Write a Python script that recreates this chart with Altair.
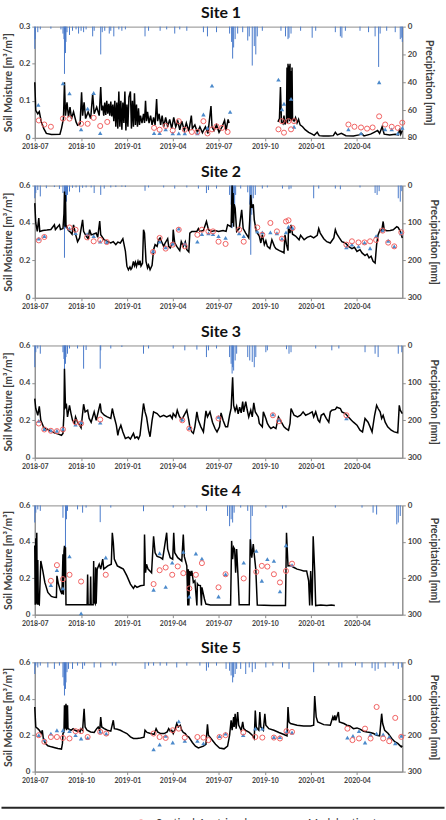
import altair as alt
import pandas as pd

# ---------------------------------------------------------------- site 1
S1_SOIL_A = [
    ("2018-07-01", 0.150), ("2018-07-03", 0.074), ("2018-07-07", 0.065), ("2018-07-10", 0.071),
    ("2018-07-14", 0.043), ("2018-07-19", 0.025), ("2018-07-24", 0.012), ("2018-08-03", 0.009),
    ("2018-08-20", 0.010), ("2018-08-23", 0.025), ("2018-08-27", 0.052), ("2018-08-29", 0.150),
    ("2018-08-31", 0.060), ("2018-09-03", 0.096), ("2018-09-06", 0.056), ("2018-09-09", 0.083),
    ("2018-09-12", 0.052), ("2018-09-16", 0.070), ("2018-09-21", 0.043), ("2018-09-24", 0.034),
    ("2018-09-29", 0.038), ("2018-10-02", 0.123), ("2018-10-04", 0.060), ("2018-10-07", 0.096),
    ("2018-10-10", 0.052), ("2018-10-15", 0.070), ("2018-10-20", 0.052), ("2018-10-24", 0.119),
    ("2018-10-27", 0.065), ("2018-11-01", 0.083), ("2018-11-06", 0.060), ("2018-11-09", 0.137),
    ("2018-11-11", 0.074), ("2018-11-13", 0.087), ("2018-11-15", 0.060), ("2018-11-17", 0.095),
    ("2018-11-19", 0.062), ("2018-11-21", 0.100), ("2018-11-23", 0.065), ("2018-11-25", 0.092),
    ("2018-11-27", 0.060), ("2018-11-29", 0.098), ("2018-12-01", 0.058), ("2018-12-03", 0.090),
    ("2018-12-05", 0.045), ("2018-12-07", 0.100), ("2018-12-09", 0.030), ("2018-12-11", 0.095),
    ("2018-12-13", 0.025), ("2018-12-15", 0.125), ("2018-12-17", 0.030), ("2018-12-19", 0.100),
    ("2018-12-21", 0.022), ("2018-12-23", 0.095), ("2018-12-25", 0.040), ("2018-12-27", 0.125),
    ("2018-12-29", 0.020), ("2018-12-31", 0.090), ("2019-01-02", 0.030), ("2019-01-04", 0.110),
    ("2019-01-07", 0.125), ("2019-01-09", 0.025), ("2019-01-11", 0.100), ("2019-01-13", 0.030),
    ("2019-01-15", 0.120), ("2019-01-17", 0.035), ("2019-01-19", 0.090), ("2019-01-21", 0.030),
    ("2019-01-23", 0.080), ("2019-01-25", 0.035), ("2019-01-27", 0.060), ("2019-01-30", 0.040),
    ("2019-02-02", 0.065), ("2019-02-04", 0.040), ("2019-02-06", 0.100), ("2019-02-08", 0.045),
    ("2019-02-10", 0.070), ("2019-02-13", 0.040), ("2019-02-16", 0.060), ("2019-02-19", 0.035),
    ("2019-02-22", 0.055), ("2019-02-25", 0.035), ("2019-02-28", 0.105), ("2019-03-02", 0.045),
    ("2019-03-05", 0.065), ("2019-03-08", 0.035), ("2019-03-11", 0.060), ("2019-03-14", 0.030),
    ("2019-03-18", 0.055), ("2019-03-22", 0.030), ("2019-03-26", 0.050), ("2019-03-30", 0.025),
    ("2019-04-03", 0.055), ("2019-04-07", 0.030), ("2019-04-11", 0.045), ("2019-04-15", 0.022),
    ("2019-04-19", 0.045), ("2019-04-24", 0.020), ("2019-04-28", 0.040), ("2019-05-03", 0.018),
    ("2019-05-08", 0.060), ("2019-05-10", 0.025), ("2019-05-15", 0.035), ("2019-05-20", 0.015),
    ("2019-05-25", 0.030), ("2019-05-30", 0.014), ("2019-06-05", 0.030), ("2019-06-10", 0.012),
    ("2019-06-16", 0.086), ("2019-06-18", 0.030), ("2019-06-22", 0.020), ("2019-06-27", 0.035),
    ("2019-07-02", 0.015), ("2019-07-08", 0.030), ("2019-07-13", 0.047), ("2019-07-16", 0.020),
    ("2019-07-20", 0.050), ("2019-07-22", 0.040),
]
S1_SOIL_B = [
    ("2019-10-27", 0.043), ("2019-10-30", 0.052), ("2019-11-01", 0.137), ("2019-11-03", 0.043),
    ("2019-11-06", 0.038), ("2019-11-08", 0.060), ("2019-11-10", 0.036), ("2019-11-13", 0.050),
    ("2019-11-14", 0.190), ("2019-11-15", 0.040), ("2019-11-16", 0.200), ("2019-11-17", 0.050),
    ("2019-11-18", 0.195), ("2019-11-19", 0.045), ("2019-11-20", 0.200), ("2019-11-21", 0.050),
    ("2019-11-22", 0.180), ("2019-11-23", 0.045), ("2019-11-24", 0.190), ("2019-11-25", 0.052),
    ("2019-11-28", 0.045), ("2019-12-01", 0.055), ("2019-12-04", 0.040), ("2019-12-07", 0.050),
    ("2019-12-10", 0.035), ("2019-12-15", 0.030), ("2019-12-20", 0.022), ("2019-12-27", 0.015),
    ("2020-01-03", 0.010), ("2020-01-07", 0.007), ("2020-01-13", 0.015), ("2020-01-17", 0.006),
    ("2020-01-25", 0.005), ("2020-02-05", 0.005), ("2020-02-14", 0.006), ("2020-02-18", 0.015),
    ("2020-02-22", 0.008), ("2020-03-01", 0.012), ("2020-03-10", 0.006), ("2020-03-25", 0.005),
    ("2020-04-05", 0.008), ("2020-04-10", 0.012), ("2020-04-15", 0.005), ("2020-04-28", 0.010),
    ("2020-05-05", 0.015), ("2020-05-12", 0.020), ("2020-05-16", 0.012), ("2020-05-21", 0.030),
    ("2020-05-25", 0.010), ("2020-06-05", 0.008), ("2020-06-16", 0.010), ("2020-06-22", 0.008),
    ("2020-06-25", 0.025), ("2020-06-27", 0.010), ("2020-06-30", 0.020),
]
S1_CIRCLES = [
    ("2018-07-09", 0.047), ("2018-07-20", 0.036), ("2018-08-02", 0.030), ("2018-08-26", 0.052),
    ("2018-09-08", 0.052), ("2018-10-01", 0.038), ("2018-10-14", 0.038), ("2018-10-26", 0.054),
    ("2018-11-08", 0.032), ("2018-11-22", 0.043), ("2019-02-23", 0.027), ("2019-03-06", 0.022),
    ("2019-03-18", 0.032), ("2019-04-01", 0.020), ("2019-04-13", 0.045), ("2019-04-25", 0.022),
    ("2019-05-09", 0.016), ("2019-05-20", 0.016), ("2019-06-01", 0.045), ("2019-06-09", 0.012),
    ("2019-06-18", 0.023), ("2019-06-27", 0.031), ("2019-07-08", 0.027), ("2019-07-19", 0.016),
    ("2019-10-28", 0.023), ("2019-11-04", 0.045), ("2019-11-08", 0.014), ("2019-11-17", 0.045),
    ("2019-11-22", 0.023), ("2019-11-28", 0.045), ("2020-03-15", 0.036), ("2020-03-27", 0.030),
    ("2020-04-09", 0.028), ("2020-04-21", 0.025), ("2020-05-02", 0.028), ("2020-05-15", 0.058),
    ("2020-05-27", 0.036), ("2020-06-09", 0.030), ("2020-06-21", 0.027), ("2020-06-30", 0.041),
]
S1_TRIANGLES = [
    ("2018-07-08", 0.089), ("2018-08-26", 0.147), ("2018-09-08", 0.120), ("2018-10-01", 0.023),
    ("2018-10-14", 0.079), ("2018-10-26", 0.121), ("2018-11-08", 0.013), ("2019-02-23", 0.013),
    ("2019-03-06", 0.013), ("2019-03-18", 0.023), ("2019-04-01", 0.012), ("2019-04-13", 0.012),
    ("2019-04-25", 0.012), ("2019-05-20", 0.012), ("2019-06-01", 0.063), ("2019-06-09", 0.027),
    ("2019-06-18", 0.141), ("2019-07-24", 0.070), ("2019-10-28", 0.157), ("2019-11-04", 0.077),
    ("2019-11-08", 0.092), ("2019-11-22", 0.105), ("2019-11-28", 0.030), ("2020-03-15", 0.023),
    ("2020-04-09", 0.012), ("2020-05-15", 0.150), ("2020-05-27", 0.023), ("2020-06-09", 0.023),
    ("2020-06-21", 0.012), ("2020-06-30", 0.027),
]
S1_RAIN = [
    ("2018-07-01", 16), ("2018-07-02", 9), ("2018-07-07", 4), ("2018-07-12", 2), ("2018-08-02", 1.5),
    ("2018-08-22", 2), ("2018-08-26", 5), ("2018-08-28", 9), ("2018-08-29", 34), ("2018-08-31", 19),
    ("2018-09-01", 11), ("2018-09-03", 4), ("2018-09-08", 6), ("2018-09-14", 3), ("2018-09-21", 2),
    ("2018-09-26", 5), ("2018-10-01", 3), ("2018-10-06", 4), ("2018-10-11", 2), ("2018-10-24", 7),
    ("2018-10-27", 3), ("2018-11-09", 20), ("2018-11-12", 4), ("2018-11-17", 3), ("2018-11-26", 5),
    ("2018-11-29", 3), ("2018-12-05", 7), ("2018-12-15", 2), ("2018-12-21", 3), ("2018-12-28", 2),
    ("2019-02-05", 7), ("2019-02-12", 3), ("2019-03-07", 3), ("2019-03-20", 2), ("2019-04-05", 5),
    ("2019-04-15", 2), ("2019-04-29", 3), ("2019-06-01", 4), ("2019-06-09", 7), ("2019-06-27", 4),
    ("2019-07-23", 5), ("2019-07-27", 11), ("2019-07-29", 23), ("2019-07-31", 15), ("2019-08-03", 9),
    ("2019-08-08", 5), ("2019-08-18", 4), ("2019-08-28", 10), ("2019-08-31", 7), ("2019-09-06", 28),
    ("2019-09-10", 14), ("2019-09-13", 20), ("2019-09-16", 7), ("2019-09-26", 3), ("2019-11-02", 3),
    ("2019-11-11", 7), ("2019-11-16", 9), ("2019-11-18", 8), ("2019-11-22", 5), ("2019-12-11", 3),
    ("2020-01-03", 8), ("2020-01-10", 3), ("2020-02-18", 4), ("2020-02-28", 7), ("2020-03-02", 8),
    ("2020-03-09", 3), ("2020-04-07", 3), ("2020-04-24", 4), ("2020-05-07", 7), ("2020-05-14", 29),
    ("2020-05-17", 5), ("2020-05-30", 3), ("2020-06-16", 4), ("2020-06-26", 9), ("2020-06-29", 8),
    ("2020-06-30", 11),
]

# ---------------------------------------------------------------- site 2
S2_SOIL = [
    ("2018-07-01", 0.506), ("2018-07-03", 0.400), ("2018-07-06", 0.355), ("2018-07-09", 0.426),
    ("2018-07-11", 0.355), ("2018-07-17", 0.360), ("2018-07-25", 0.362), ("2018-08-02", 0.365),
    ("2018-08-09", 0.390), ("2018-08-11", 0.365), ("2018-08-19", 0.390), ("2018-08-21", 0.365),
    ("2018-08-26", 0.370), ("2018-08-28", 0.450), ("2018-08-29", 0.568), ("2018-08-30", 0.380),
    ("2018-08-31", 0.550), ("2018-09-01", 0.390), ("2018-09-02", 0.380), ("2018-09-06", 0.360),
    ("2018-09-10", 0.350), ("2018-09-13", 0.340), ("2018-09-16", 0.390), ("2018-09-20", 0.340),
    ("2018-09-24", 0.300), ("2018-09-28", 0.320), ("2018-10-04", 0.417), ("2018-10-06", 0.355),
    ("2018-10-11", 0.330), ("2018-10-15", 0.316), ("2018-10-18", 0.364), ("2018-10-21", 0.337),
    ("2018-10-25", 0.340), ("2018-10-31", 0.346), ("2018-11-03", 0.323), ("2018-11-07", 0.410),
    ("2018-11-09", 0.337), ("2018-11-16", 0.310), ("2018-11-23", 0.300), ("2018-11-29", 0.293),
    ("2018-12-04", 0.300), ("2018-12-09", 0.284), ("2018-12-13", 0.298), ("2018-12-18", 0.293),
    ("2018-12-23", 0.316), ("2018-12-28", 0.250), ("2018-12-31", 0.169), ("2019-01-03", 0.150),
    ("2019-01-06", 0.165), ("2019-01-08", 0.152), ("2019-01-10", 0.160), ("2019-01-13", 0.195),
    ("2019-01-15", 0.172), ("2019-01-17", 0.190), ("2019-01-19", 0.168), ("2019-01-22", 0.195),
    ("2019-01-24", 0.175), ("2019-01-26", 0.198), ("2019-01-28", 0.170), ("2019-01-31", 0.185),
    ("2019-02-02", 0.364), ("2019-02-04", 0.346), ("2019-02-07", 0.195), ("2019-02-10", 0.160),
    ("2019-02-12", 0.175), ("2019-02-15", 0.150), ("2019-02-19", 0.174), ("2019-02-22", 0.257),
    ("2019-02-25", 0.284), ("2019-03-01", 0.275), ("2019-03-04", 0.310), ("2019-03-07", 0.320),
    ("2019-03-10", 0.300), ("2019-03-14", 0.275), ("2019-03-17", 0.293), ("2019-03-22", 0.316),
    ("2019-03-24", 0.275), ("2019-03-27", 0.266), ("2019-04-01", 0.293), ("2019-04-02", 0.364),
    ("2019-04-05", 0.293), ("2019-04-09", 0.275), ("2019-04-15", 0.252), ("2019-04-18", 0.300),
    ("2019-04-22", 0.275), ("2019-04-26", 0.300), ("2019-04-29", 0.257), ("2019-05-03", 0.245),
    ("2019-05-05", 0.346), ("2019-05-09", 0.355), ("2019-05-19", 0.355), ("2019-05-22", 0.370),
    ("2019-05-25", 0.355), ("2019-06-01", 0.360), ("2019-06-07", 0.408), ("2019-06-11", 0.364),
    ("2019-06-17", 0.355), ("2019-06-24", 0.360), ("2019-07-01", 0.355), ("2019-07-10", 0.360),
    ("2019-07-16", 0.355), ("2019-07-19", 0.390), ("2019-07-26", 0.380), ("2019-07-28", 0.600),
    ("2019-07-29", 0.400), ("2019-07-30", 0.560), ("2019-07-31", 0.380), ("2019-08-01", 0.500),
    ("2019-08-03", 0.480), ("2019-08-06", 0.355), ("2019-08-11", 0.370), ("2019-08-16", 0.470),
    ("2019-08-19", 0.370), ("2019-08-24", 0.346), ("2019-08-30", 0.320), ("2019-09-01", 0.417),
    ("2019-09-03", 0.550), ("2019-09-05", 0.480), ("2019-09-08", 0.500), ("2019-09-10", 0.417),
    ("2019-09-14", 0.355), ("2019-09-20", 0.330), ("2019-09-23", 0.293), ("2019-09-26", 0.337),
    ("2019-09-30", 0.284), ("2019-10-03", 0.305), ("2019-10-06", 0.275), ("2019-10-11", 0.263),
    ("2019-10-15", 0.310), ("2019-10-20", 0.275), ("2019-10-23", 0.263), ("2019-10-30", 0.252),
    ("2019-11-05", 0.245), ("2019-11-08", 0.240), ("2019-11-10", 0.337), ("2019-11-13", 0.284),
    ("2019-11-16", 0.252), ("2019-11-17", 0.380), ("2019-11-20", 0.346), ("2019-11-22", 0.390),
    ("2019-11-25", 0.340), ("2019-12-01", 0.330), ("2019-12-08", 0.310), ("2019-12-11", 0.334),
    ("2019-12-18", 0.310), ("2019-12-24", 0.323), ("2019-12-31", 0.330), ("2020-01-06", 0.320),
    ("2020-01-13", 0.334), ("2020-01-16", 0.370), ("2020-01-19", 0.346), ("2020-01-26", 0.316),
    ("2020-02-01", 0.300), ("2020-02-08", 0.293), ("2020-02-15", 0.320), ("2020-02-18", 0.364),
    ("2020-02-21", 0.341), ("2020-02-26", 0.320), ("2020-03-02", 0.300), ("2020-03-09", 0.293),
    ("2020-03-15", 0.275), ("2020-03-22", 0.263), ("2020-03-27", 0.270), ("2020-04-01", 0.248),
    ("2020-04-07", 0.257), ("2020-04-11", 0.240), ("2020-04-17", 0.226), ("2020-04-21", 0.234),
    ("2020-04-25", 0.213), ("2020-04-29", 0.222), ("2020-05-03", 0.195), ("2020-05-07", 0.186),
    ("2020-05-10", 0.284), ("2020-05-13", 0.337), ("2020-05-17", 0.364), ("2020-05-20", 0.355),
    ("2020-05-23", 0.408), ("2020-05-25", 0.364), ("2020-05-30", 0.359), ("2020-06-06", 0.360),
    ("2020-06-12", 0.364), ("2020-06-19", 0.380), ("2020-06-22", 0.375), ("2020-06-26", 0.355),
    ("2020-06-30", 0.320),
]
S2_CIRCLES = [
    ("2018-07-09", 0.307), ("2018-07-20", 0.325), ("2018-09-08", 0.376), ("2018-09-20", 0.364),
    ("2018-10-13", 0.323), ("2018-10-26", 0.302), ("2018-11-08", 0.309), ("2018-11-21", 0.298),
    ("2019-02-21", 0.245), ("2019-03-06", 0.320), ("2019-03-18", 0.263), ("2019-04-01", 0.284),
    ("2019-04-13", 0.364), ("2019-04-25", 0.275), ("2019-05-20", 0.337), ("2019-05-29", 0.364),
    ("2019-06-11", 0.355), ("2019-06-20", 0.355), ("2019-07-01", 0.300), ("2019-07-15", 0.288),
    ("2019-08-11", 0.364), ("2019-08-20", 0.300), ("2019-09-16", 0.376), ("2019-09-26", 0.337),
    ("2019-10-12", 0.400), ("2019-10-25", 0.355), ("2019-11-04", 0.316), ("2019-11-12", 0.408),
    ("2019-11-17", 0.414), ("2019-11-25", 0.373), ("2020-03-11", 0.284), ("2020-03-22", 0.302),
    ("2020-04-04", 0.296), ("2020-04-16", 0.296), ("2020-04-27", 0.302), ("2020-05-09", 0.309),
    ("2020-05-22", 0.359), ("2020-06-02", 0.295), ("2020-06-14", 0.275), ("2020-06-28", 0.350),
]
S2_TRIANGLES = [
    ("2018-07-09", 0.316), ("2018-07-20", 0.330), ("2018-09-08", 0.370), ("2018-09-20", 0.346),
    ("2018-10-13", 0.340), ("2018-10-26", 0.330), ("2018-11-08", 0.300), ("2018-11-21", 0.298),
    ("2019-02-21", 0.250), ("2019-03-06", 0.300), ("2019-03-18", 0.270), ("2019-04-01", 0.290),
    ("2019-04-13", 0.370), ("2019-04-25", 0.290), ("2019-05-20", 0.300), ("2019-05-29", 0.340),
    ("2019-06-11", 0.345), ("2019-06-20", 0.340), ("2019-07-01", 0.330), ("2019-07-15", 0.320),
    ("2019-08-11", 0.345), ("2019-08-20", 0.330), ("2019-09-16", 0.355), ("2019-09-26", 0.350),
    ("2019-10-12", 0.350), ("2019-10-25", 0.345), ("2019-11-04", 0.316), ("2019-11-12", 0.350),
    ("2019-11-17", 0.380), ("2019-11-25", 0.373), ("2020-03-11", 0.270), ("2020-03-22", 0.285),
    ("2020-04-04", 0.275), ("2020-04-16", 0.295), ("2020-04-27", 0.265), ("2020-05-09", 0.330),
    ("2020-05-22", 0.360), ("2020-06-02", 0.305), ("2020-06-14", 0.275), ("2020-06-28", 0.345),
]
S2_RAIN = [
    ("2018-07-01", 34), ("2018-07-03", 20), ("2018-07-07", 12), ("2018-07-12", 29), ("2018-07-24", 7),
    ("2018-08-09", 4), ("2018-08-19", 9), ("2018-08-26", 20), ("2018-08-29", 193), ("2018-08-31", 114),
    ("2018-09-02", 43), ("2018-09-04", 25), ("2018-09-08", 16), ("2018-09-14", 6), ("2018-09-21", 5),
    ("2018-09-28", 18), ("2018-10-04", 6), ("2018-10-11", 5), ("2018-10-21", 5), ("2018-10-27", 20),
    ("2018-11-09", 25), ("2018-11-16", 8), ("2018-11-29", 5), ("2018-12-09", 4), ("2018-12-21", 3),
    ("2018-12-28", 4), ("2019-02-05", 14), ("2019-02-12", 5), ("2019-03-14", 5), ("2019-04-05", 8),
    ("2019-04-29", 5), ("2019-05-22", 8), ("2019-06-07", 20), ("2019-06-11", 12), ("2019-06-27", 8),
    ("2019-07-23", 25), ("2019-07-26", 51), ("2019-07-28", 114), ("2019-07-29", 69), ("2019-07-31", 96),
    ("2019-08-02", 60), ("2019-08-04", 25), ("2019-08-14", 8), ("2019-08-28", 18), ("2019-09-01", 51),
    ("2019-09-03", 185), ("2019-09-05", 78), ("2019-09-08", 34), ("2019-09-12", 25), ("2019-09-26", 8),
    ("2019-10-06", 5), ("2019-11-05", 8), ("2019-11-18", 10), ("2019-11-22", 8), ("2020-01-06", 34),
    ("2020-01-16", 8), ("2020-02-18", 8), ("2020-02-28", 10), ("2020-04-07", 5), ("2020-05-07", 20),
    ("2020-05-11", 25), ("2020-05-15", 15), ("2020-06-22", 34), ("2020-06-26", 43), ("2020-06-29", 15),
]

# ---------------------------------------------------------------- site 3
S3_SOIL = [
    ("2018-07-01", 0.316), ("2018-07-03", 0.263), ("2018-07-07", 0.227), ("2018-07-10", 0.275),
    ("2018-07-13", 0.200), ("2018-07-19", 0.160), ("2018-07-27", 0.151), ("2018-08-02", 0.142),
    ("2018-08-09", 0.133), ("2018-08-17", 0.126), ("2018-08-23", 0.120), ("2018-08-26", 0.130),
    ("2018-08-28", 0.236), ("2018-08-29", 0.476), ("2018-08-31", 0.270), ("2018-09-02", 0.280),
    ("2018-09-04", 0.218), ("2018-09-08", 0.280), ("2018-09-11", 0.236), ("2018-09-14", 0.200),
    ("2018-09-18", 0.183), ("2018-09-20", 0.218), ("2018-09-24", 0.190), ("2018-09-28", 0.174),
    ("2018-10-01", 0.160), ("2018-10-06", 0.286), ("2018-10-09", 0.245), ("2018-10-14", 0.254),
    ("2018-10-17", 0.210), ("2018-10-21", 0.190), ("2018-10-27", 0.245), ("2018-10-31", 0.200),
    ("2018-11-08", 0.290), ("2018-11-10", 0.245), ("2018-11-16", 0.227), ("2018-11-22", 0.218),
    ("2018-11-29", 0.210), ("2018-12-02", 0.263), ("2018-12-05", 0.227), ("2018-12-10", 0.174),
    ("2018-12-13", 0.120), ("2018-12-15", 0.147), ("2018-12-19", 0.174), ("2018-12-23", 0.138),
    ("2018-12-28", 0.103), ("2019-01-03", 0.110), ("2019-01-07", 0.100), ("2019-01-10", 0.115),
    ("2019-01-13", 0.130), ("2019-01-16", 0.105), ("2019-01-20", 0.112), ("2019-01-23", 0.100),
    ("2019-01-26", 0.120), ("2019-02-02", 0.290), ("2019-02-05", 0.245), ("2019-02-08", 0.218),
    ("2019-02-12", 0.147), ("2019-02-15", 0.112), ("2019-02-19", 0.200), ("2019-02-22", 0.245),
    ("2019-03-01", 0.236), ("2019-03-07", 0.218), ("2019-03-14", 0.227), ("2019-03-20", 0.218),
    ("2019-03-27", 0.227), ("2019-03-31", 0.210), ("2019-04-02", 0.236), ("2019-04-07", 0.218),
    ("2019-04-10", 0.254), ("2019-04-14", 0.222), ("2019-04-19", 0.200), ("2019-04-22", 0.218),
    ("2019-04-29", 0.254), ("2019-05-03", 0.200), ("2019-05-05", 0.165), ("2019-05-09", 0.138),
    ("2019-05-12", 0.130), ("2019-05-15", 0.165), ("2019-05-19", 0.245), ("2019-05-22", 0.200),
    ("2019-05-27", 0.165), ("2019-06-01", 0.138), ("2019-06-06", 0.250), ("2019-06-09", 0.218),
    ("2019-06-14", 0.245), ("2019-06-19", 0.190), ("2019-06-24", 0.156), ("2019-06-28", 0.138),
    ("2019-07-03", 0.165), ("2019-07-06", 0.240), ("2019-07-10", 0.200), ("2019-07-15", 0.165),
    ("2019-07-19", 0.165), ("2019-07-23", 0.227), ("2019-07-26", 0.263), ("2019-07-29", 0.430),
    ("2019-07-31", 0.280), ("2019-08-03", 0.250), ("2019-08-06", 0.275), ("2019-08-09", 0.235),
    ("2019-08-12", 0.270), ("2019-08-15", 0.240), ("2019-08-18", 0.300), ("2019-08-20", 0.245),
    ("2019-08-24", 0.300), ("2019-08-27", 0.255), ("2019-08-30", 0.218), ("2019-09-03", 0.254),
    ("2019-09-06", 0.218), ("2019-09-09", 0.293), ("2019-09-12", 0.245), ("2019-09-18", 0.218),
    ("2019-09-20", 0.183), ("2019-09-26", 0.165), ("2019-09-28", 0.245), ("2019-10-03", 0.210),
    ("2019-10-06", 0.183), ("2019-10-10", 0.165), ("2019-10-13", 0.156), ("2019-10-18", 0.165),
    ("2019-10-23", 0.156), ("2019-10-28", 0.218), ("2019-11-01", 0.200), ("2019-11-08", 0.165),
    ("2019-11-12", 0.156), ("2019-11-17", 0.147), ("2019-11-20", 0.183), ("2019-11-22", 0.263),
    ("2019-11-28", 0.227), ("2019-12-05", 0.218), ("2019-12-11", 0.227), ("2019-12-16", 0.245),
    ("2019-12-21", 0.227), ("2019-12-28", 0.236), ("2020-01-03", 0.245), ("2020-01-06", 0.218),
    ("2020-01-10", 0.245), ("2020-01-15", 0.200), ("2020-01-18", 0.190), ("2020-01-21", 0.227),
    ("2020-01-26", 0.236), ("2020-01-31", 0.210), ("2020-02-05", 0.190), ("2020-02-08", 0.245),
    ("2020-02-11", 0.254), ("2020-02-18", 0.258), ("2020-02-21", 0.270), ("2020-02-28", 0.263),
    ("2020-03-02", 0.245), ("2020-03-09", 0.236), ("2020-03-15", 0.218), ("2020-03-21", 0.200),
    ("2020-03-25", 0.190), ("2020-04-01", 0.174), ("2020-04-07", 0.147), ("2020-04-12", 0.138),
    ("2020-04-17", 0.210), ("2020-04-23", 0.190), ("2020-04-27", 0.165), ("2020-05-01", 0.138),
    ("2020-05-06", 0.227), ("2020-05-10", 0.280), ("2020-05-13", 0.263), ("2020-05-17", 0.245),
    ("2020-05-20", 0.210), ("2020-05-23", 0.227), ("2020-05-27", 0.190), ("2020-06-01", 0.165),
    ("2020-06-08", 0.147), ("2020-06-14", 0.138), ("2020-06-21", 0.133), ("2020-06-24", 0.280),
    ("2020-06-26", 0.254), ("2020-06-30", 0.236),
]
S3_CIRCLES = [
    ("2018-07-09", 0.183), ("2018-07-20", 0.151), ("2018-08-02", 0.144), ("2018-08-14", 0.142),
    ("2018-08-26", 0.151), ("2018-09-20", 0.190), ("2018-10-01", 0.183), ("2018-11-08", 0.204),
    ("2019-04-20", 0.200), ("2019-05-04", 0.156), ("2019-07-01", 0.210), ("2019-10-17", 0.227),
    ("2019-10-29", 0.195), ("2020-03-11", 0.227),
]
S3_TRIANGLES = [
    ("2018-07-09", 0.197), ("2018-07-20", 0.153), ("2018-08-02", 0.146), ("2018-08-14", 0.144),
    ("2018-08-26", 0.154), ("2018-09-20", 0.177), ("2018-10-01", 0.190), ("2018-11-08", 0.188),
    ("2019-04-20", 0.204), ("2019-05-04", 0.158), ("2019-07-01", 0.218), ("2019-10-17", 0.232),
    ("2019-10-29", 0.204), ("2020-03-11", 0.210),
]
S3_RAIN = [
    ("2018-07-01", 58), ("2018-07-03", 18), ("2018-07-07", 8), ("2018-07-12", 22), ("2018-08-26", 18),
    ("2018-08-28", 36), ("2018-08-29", 84), ("2018-08-31", 49), ("2018-09-01", 31), ("2018-09-04", 22),
    ("2018-09-08", 8), ("2018-09-24", 8), ("2018-10-06", 62), ("2018-10-11", 12), ("2018-11-08", 62),
    ("2018-11-09", 13), ("2018-11-29", 8), ("2018-12-21", 4), ("2019-02-02", 22), ("2019-02-12", 8),
    ("2019-04-02", 8), ("2019-04-25", 13), ("2019-05-19", 11), ("2019-06-07", 31), ("2019-06-11", 13),
    ("2019-06-27", 8), ("2019-07-23", 31), ("2019-07-26", 49), ("2019-07-28", 75), ("2019-07-29", 58),
    ("2019-07-31", 67), ("2019-08-03", 40), ("2019-08-06", 22), ("2019-08-28", 31), ("2019-09-01", 40),
    ("2019-09-06", 44), ("2019-09-10", 58), ("2019-09-13", 31), ("2019-10-03", 18), ("2019-10-06", 13),
    ("2019-11-13", 10), ("2019-11-18", 22), ("2019-11-22", 18), ("2020-01-10", 8), ("2020-02-11", 13),
    ("2020-02-25", 8), ("2020-04-17", 18), ("2020-05-07", 22), ("2020-05-13", 31), ("2020-06-22", 22),
    ("2020-06-29", 18),
]

# ---------------------------------------------------------------- site 4
S4_SOIL = [
    ("2018-07-01", 0.380), ("2018-07-02", 0.055), ("2018-07-03", 0.420), ("2018-07-04", 0.060),
    ("2018-07-05", 0.450), ("2018-07-06", 0.055), ("2018-07-07", 0.300), ("2018-07-08", 0.060),
    ("2018-07-10", 0.055), ("2018-07-13", 0.295), ("2018-07-17", 0.240), ("2018-07-21", 0.177),
    ("2018-07-27", 0.122), ("2018-08-03", 0.100), ("2018-08-09", 0.095), ("2018-08-13", 0.094),
    ("2018-08-14", 0.213), ("2018-08-17", 0.168), ("2018-08-21", 0.131), ("2018-08-24", 0.113),
    ("2018-08-26", 0.332), ("2018-08-27", 0.110), ("2018-08-28", 0.350), ("2018-08-29", 0.378),
    ("2018-08-30", 0.200), ("2018-08-31", 0.370), ("2018-09-01", 0.055), ("2018-10-13", 0.055),
    ("2018-10-14", 0.220), ("2018-10-15", 0.055), ("2018-10-19", 0.055), ("2018-10-20", 0.210),
    ("2018-10-21", 0.055), ("2018-10-25", 0.055), ("2018-10-26", 0.295), ("2018-10-27", 0.070),
    ("2018-10-29", 0.060), ("2018-10-30", 0.260), ("2018-10-31", 0.060), ("2018-11-02", 0.250),
    ("2018-11-06", 0.277), ("2018-11-09", 0.250), ("2018-11-13", 0.305), ("2018-11-15", 0.250),
    ("2018-11-23", 0.268), ("2018-11-30", 0.277), ("2018-12-02", 0.450), ("2018-12-04", 0.396),
    ("2018-12-06", 0.305), ("2018-12-12", 0.268), ("2018-12-18", 0.259), ("2018-12-24", 0.250),
    ("2018-12-31", 0.213), ("2019-01-07", 0.168), ("2019-01-13", 0.144), ("2019-01-16", 0.159),
    ("2019-01-20", 0.150), ("2019-01-27", 0.159), ("2019-02-03", 0.162), ("2019-02-04", 0.440),
    ("2019-02-06", 0.230), ("2019-02-08", 0.277), ("2019-02-11", 0.250), ("2019-02-18", 0.230),
    ("2019-02-22", 0.430), ("2019-02-25", 0.340), ("2019-03-01", 0.320), ("2019-03-08", 0.313),
    ("2019-03-12", 0.305), ("2019-03-20", 0.450), ("2019-03-22", 0.360), ("2019-03-27", 0.313),
    ("2019-04-01", 0.305), ("2019-04-03", 0.450), ("2019-04-05", 0.340), ("2019-04-11", 0.313),
    ("2019-04-19", 0.295), ("2019-04-22", 0.440), ("2019-04-24", 0.320), ("2019-04-29", 0.268),
    ("2019-05-01", 0.050), ("2019-05-02", 0.250), ("2019-05-03", 0.050), ("2019-05-05", 0.240),
    ("2019-05-07", 0.213), ("2019-05-09", 0.240), ("2019-05-12", 0.177), ("2019-05-15", 0.186),
    ("2019-05-19", 0.050), ("2019-05-20", 0.170), ("2019-05-22", 0.162), ("2019-05-26", 0.160),
    ("2019-05-28", 0.050), ("2019-05-29", 0.150), ("2019-06-03", 0.086), ("2019-06-06", 0.058),
    ("2019-06-15", 0.053), ("2019-07-25", 0.053), ("2019-07-27", 0.405), ("2019-07-29", 0.305),
    ("2019-07-31", 0.370), ("2019-08-02", 0.360), ("2019-08-04", 0.230), ("2019-08-06", 0.360),
    ("2019-08-09", 0.195), ("2019-08-11", 0.055), ("2019-08-31", 0.055), ("2019-09-02", 0.414),
    ("2019-09-05", 0.313), ("2019-09-08", 0.387), ("2019-09-10", 0.330), ("2019-09-13", 0.250),
    ("2019-09-16", 0.053), ("2019-10-15", 0.050), ("2019-11-11", 0.050), ("2019-11-13", 0.450),
    ("2019-11-16", 0.268), ("2019-11-21", 0.270), ("2019-11-28", 0.259), ("2019-12-04", 0.250),
    ("2019-12-10", 0.246), ("2019-12-17", 0.240), ("2019-12-23", 0.240), ("2019-12-27", 0.186),
    ("2019-12-29", 0.050), ("2019-12-31", 0.240), ("2020-01-03", 0.050), ("2020-01-05", 0.430),
    ("2020-01-08", 0.240), ("2020-01-10", 0.050), ("2020-01-20", 0.053), ("2020-02-01", 0.050),
    ("2020-02-10", 0.053), ("2020-02-17", 0.050),
]
S4_CIRCLES = [
    ("2018-08-02", 0.186), ("2018-08-14", 0.272), ("2018-08-26", 0.195), ("2018-09-08", 0.219),
    ("2018-10-01", 0.182), ("2018-11-19", 0.219), ("2019-02-22", 0.168), ("2019-03-06", 0.244),
    ("2019-03-18", 0.259), ("2019-03-31", 0.219), ("2019-04-11", 0.265), ("2019-04-22", 0.228),
    ("2019-05-04", 0.144), ("2019-05-17", 0.219), ("2019-05-29", 0.283), ("2019-07-01", 0.150),
    ("2019-07-15", 0.222), ("2019-08-20", 0.199), ("2019-09-14", 0.235), ("2019-09-25", 0.268),
    ("2019-10-06", 0.264), ("2019-10-19", 0.222), ("2019-10-31", 0.177), ("2019-11-12", 0.240),
    ("2019-11-24", 0.280),
]
S4_TRIANGLES = [
    ("2018-08-02", 0.162), ("2018-08-14", 0.245), ("2018-08-26", 0.144), ("2018-09-08", 0.320),
    ("2018-10-01", 0.007), ("2018-11-19", 0.314), ("2019-02-22", 0.137), ("2019-03-06", 0.337),
    ("2019-03-18", 0.153), ("2019-03-31", 0.286), ("2019-04-22", 0.345), ("2019-05-04", 0.100),
    ("2019-05-17", 0.336), ("2019-05-29", 0.308), ("2019-07-01", 0.100), ("2019-07-15", 0.222),
    ("2019-08-20", 0.286), ("2019-09-14", 0.350), ("2019-09-25", 0.186), ("2019-10-06", 0.305),
    ("2019-10-19", 0.295), ("2019-10-31", 0.128), ("2019-11-12", 0.381), ("2019-11-24", 0.272),
]
S4_RAIN = [
    ("2018-07-01", 47), ("2018-07-03", 20), ("2018-07-07", 11), ("2018-07-12", 15), ("2018-08-26", 34),
    ("2018-08-31", 157), ("2018-09-02", 38), ("2018-09-04", 15), ("2018-09-24", 11), ("2018-10-04", 20),
    ("2018-10-11", 6), ("2018-11-08", 46), ("2018-11-29", 6), ("2019-02-02", 16), ("2019-04-02", 6),
    ("2019-04-25", 6), ("2019-05-19", 6), ("2019-06-07", 15), ("2019-07-19", 29), ("2019-07-23", 57),
    ("2019-07-26", 38), ("2019-07-29", 47), ("2019-08-01", 20), ("2019-08-14", 6), ("2019-08-28", 15),
    ("2019-09-03", 139), ("2019-09-06", 29), ("2019-10-03", 6), ("2019-11-05", 9), ("2019-11-12", 6),
    ("2020-02-18", 6), ("2020-04-11", 6), ("2020-05-03", 20), ("2020-05-10", 25), ("2020-06-19", 52),
    ("2020-06-22", 47), ("2020-06-26", 29),
]

# ---------------------------------------------------------------- site 5
S5_SOIL = [
    ("2018-07-01", 0.355), ("2018-07-03", 0.245), ("2018-07-07", 0.236), ("2018-07-10", 0.227),
    ("2018-07-14", 0.209), ("2018-07-16", 0.227), ("2018-07-18", 0.182), ("2018-07-22", 0.155),
    ("2018-07-27", 0.142), ("2018-08-03", 0.136), ("2018-08-10", 0.131), ("2018-08-16", 0.127),
    ("2018-08-23", 0.124), ("2018-08-25", 0.155), ("2018-08-26", 0.209), ("2018-08-28", 0.218),
    ("2018-08-29", 0.364), ("2018-08-30", 0.236), ("2018-09-01", 0.373), ("2018-09-02", 0.227),
    ("2018-09-04", 0.364), ("2018-09-05", 0.236), ("2018-09-11", 0.227), ("2018-09-15", 0.236),
    ("2018-09-19", 0.227), ("2018-09-23", 0.222), ("2018-09-26", 0.227), ("2018-09-29", 0.218),
    ("2018-10-01", 0.236), ("2018-10-04", 0.227), ("2018-10-07", 0.345), ("2018-10-09", 0.245),
    ("2018-10-13", 0.227), ("2018-10-20", 0.218), ("2018-10-27", 0.215), ("2018-11-01", 0.236),
    ("2018-11-04", 0.245), ("2018-11-07", 0.227), ("2018-11-09", 0.300), ("2018-11-11", 0.245),
    ("2018-11-16", 0.236), ("2018-11-22", 0.227), ("2018-11-29", 0.222), ("2018-12-04", 0.282),
    ("2018-12-06", 0.236), ("2018-12-12", 0.233), ("2018-12-18", 0.227), ("2018-12-24", 0.218),
    ("2018-12-31", 0.209), ("2019-01-07", 0.191), ("2019-01-13", 0.182), ("2019-01-20", 0.182),
    ("2019-01-27", 0.185), ("2019-02-03", 0.189), ("2019-02-05", 0.227), ("2019-02-09", 0.215),
    ("2019-02-16", 0.209), ("2019-02-23", 0.204), ("2019-02-27", 0.236), ("2019-03-02", 0.218),
    ("2019-03-08", 0.209), ("2019-03-15", 0.209), ("2019-03-21", 0.218), ("2019-03-24", 0.236),
    ("2019-03-27", 0.222), ("2019-03-30", 0.227), ("2019-04-02", 0.209), ("2019-04-06", 0.236),
    ("2019-04-09", 0.264), ("2019-04-12", 0.245), ("2019-04-16", 0.254), ("2019-04-19", 0.227),
    ("2019-04-22", 0.215), ("2019-04-26", 0.209), ("2019-04-29", 0.196), ("2019-05-03", 0.190),
    ("2019-05-10", 0.160), ("2019-05-16", 0.140), ("2019-05-22", 0.130), ("2019-06-01", 0.140),
    ("2019-06-06", 0.150), ("2019-06-09", 0.260), ("2019-06-11", 0.200), ("2019-06-18", 0.175),
    ("2019-06-25", 0.150), ("2019-07-03", 0.130), ("2019-07-12", 0.125), ("2019-07-19", 0.140),
    ("2019-07-23", 0.200), ("2019-07-26", 0.282), ("2019-07-28", 0.227), ("2019-07-31", 0.300),
    ("2019-08-01", 0.245), ("2019-08-03", 0.318), ("2019-08-05", 0.236), ("2019-08-08", 0.327),
    ("2019-08-10", 0.255), ("2019-08-15", 0.227), ("2019-08-18", 0.273), ("2019-08-20", 0.236),
    ("2019-08-24", 0.227), ("2019-08-31", 0.215), ("2019-09-06", 0.200), ("2019-09-10", 0.182),
    ("2019-09-12", 0.336), ("2019-09-14", 0.245), ("2019-09-16", 0.236), ("2019-09-19", 0.227),
    ("2019-09-21", 0.327), ("2019-09-23", 0.245), ("2019-09-28", 0.227), ("2019-10-01", 0.318),
    ("2019-10-03", 0.255), ("2019-10-09", 0.236), ("2019-10-19", 0.227), ("2019-10-29", 0.215),
    ("2019-11-08", 0.204), ("2019-11-14", 0.196), ("2019-11-16", 0.355), ("2019-11-18", 0.273),
    ("2019-11-21", 0.264), ("2019-12-04", 0.255), ("2019-12-17", 0.251), ("2019-12-31", 0.251),
    ("2020-01-06", 0.255), ("2020-01-08", 0.415), ("2020-01-11", 0.300), ("2020-01-14", 0.273),
    ("2020-01-26", 0.258), ("2020-02-08", 0.255), ("2020-02-11", 0.282), ("2020-02-13", 0.300),
    ("2020-02-15", 0.282), ("2020-02-17", 0.309), ("2020-02-19", 0.282), ("2020-02-24", 0.327),
    ("2020-02-26", 0.273), ("2020-03-06", 0.264), ("2020-03-12", 0.255), ("2020-03-18", 0.251),
    ("2020-03-25", 0.236), ("2020-04-01", 0.240), ("2020-04-07", 0.233), ("2020-04-14", 0.222),
    ("2020-04-21", 0.218), ("2020-04-27", 0.215), ("2020-05-04", 0.209), ("2020-05-10", 0.200),
    ("2020-05-16", 0.196), ("2020-05-20", 0.318), ("2020-05-22", 0.264), ("2020-05-26", 0.227),
    ("2020-06-02", 0.209), ("2020-06-09", 0.182), ("2020-06-15", 0.164), ("2020-06-21", 0.155),
    ("2020-06-28", 0.136), ("2020-06-30", 0.142),
]
S5_CIRCLES = [
    ("2018-07-09", 0.200), ("2018-07-20", 0.164), ("2018-08-02", 0.190), ("2018-08-14", 0.190),
    ("2018-08-26", 0.185), ("2018-09-08", 0.182), ("2018-09-20", 0.222), ("2018-10-01", 0.222),
    ("2018-10-14", 0.190), ("2018-11-08", 0.218), ("2018-11-20", 0.209), ("2019-02-22", 0.209),
    ("2019-03-06", 0.190), ("2019-03-18", 0.185), ("2019-04-01", 0.227), ("2019-04-13", 0.236),
    ("2019-04-25", 0.187), ("2019-05-20", 0.190), ("2019-06-01", 0.187), ("2019-06-11", 0.173),
    ("2019-07-03", 0.190), ("2019-07-15", 0.200), ("2019-08-19", 0.215), ("2019-09-12", 0.190),
    ("2019-09-26", 0.187), ("2019-10-19", 0.187), ("2019-10-31", 0.182), ("2019-11-13", 0.222),
    ("2019-11-24", 0.218), ("2020-03-13", 0.236), ("2020-03-23", 0.173), ("2020-04-05", 0.182),
    ("2020-04-17", 0.236), ("2020-04-28", 0.182), ("2020-05-10", 0.355), ("2020-05-23", 0.182),
    ("2020-06-04", 0.167), ("2020-06-16", 0.295), ("2020-06-28", 0.191),
]
S5_TRIANGLES = [
    ("2018-07-09", 0.200), ("2018-07-20", 0.176), ("2018-08-02", 0.209), ("2018-08-14", 0.227),
    ("2018-08-26", 0.227), ("2018-09-08", 0.222), ("2018-09-20", 0.200), ("2018-10-01", 0.182),
    ("2018-10-14", 0.185), ("2018-11-08", 0.218), ("2018-11-20", 0.209), ("2019-02-22", 0.122),
    ("2019-03-06", 0.149), ("2019-03-18", 0.196), ("2019-04-01", 0.160), ("2019-04-13", 0.276),
    ("2019-04-25", 0.169), ("2019-05-20", 0.169), ("2019-06-01", 0.155), ("2019-07-03", 0.195),
    ("2019-07-15", 0.209), ("2019-08-19", 0.200), ("2019-09-12", 0.236), ("2019-09-26", 0.236),
    ("2019-10-19", 0.190), ("2019-10-31", 0.190), ("2019-11-13", 0.218), ("2019-11-24", 0.215),
    ("2020-03-13", 0.187), ("2020-03-24", 0.196), ("2020-04-05", 0.222), ("2020-04-17", 0.160),
    ("2020-04-28", 0.204), ("2020-05-10", 0.209), ("2020-05-23", 0.204), ("2020-06-04", 0.190),
    ("2020-06-16", 0.155), ("2020-06-28", 0.196),
]
S5_RAIN = [
    ("2018-07-01", 32), ("2018-07-03", 9), ("2018-07-07", 14), ("2018-07-12", 9), ("2018-07-27", 14),
    ("2018-08-09", 18), ("2018-08-19", 9), ("2018-08-26", 41), ("2018-08-28", 64), ("2018-08-29", 91),
    ("2018-08-31", 73), ("2018-09-01", 55), ("2018-09-03", 27), ("2018-09-06", 18), ("2018-09-14", 18),
    ("2018-09-24", 9), ("2018-10-04", 18), ("2018-10-08", 9), ("2018-10-27", 14), ("2018-11-09", 14),
    ("2018-12-02", 9), ("2018-12-09", 9), ("2019-02-05", 18), ("2019-02-12", 9), ("2019-02-22", 9),
    ("2019-03-07", 9), ("2019-03-20", 9), ("2019-04-09", 14), ("2019-04-29", 9), ("2019-05-25", 9),
    ("2019-06-07", 23), ("2019-06-11", 14), ("2019-06-27", 9), ("2019-07-16", 18), ("2019-07-23", 23),
    ("2019-07-26", 36), ("2019-07-29", 55), ("2019-07-31", 41), ("2019-08-03", 32), ("2019-08-06", 18),
    ("2019-08-14", 18), ("2019-08-24", 32), ("2019-08-31", 14), ("2019-09-06", 27), ("2019-09-12", 18),
    ("2019-10-03", 14), ("2019-10-17", 9), ("2019-11-05", 14), ("2019-11-18", 18), ("2020-01-06", 27),
    ("2020-02-05", 9), ("2020-02-25", 14), ("2020-03-02", 14), ("2020-03-29", 9), ("2020-04-11", 14),
    ("2020-05-01", 16), ("2020-05-07", 23), ("2020-05-13", 18), ("2020-05-27", 14), ("2020-06-12", 9),
    ("2020-06-22", 18), ("2020-06-29", 14),
]

SITES = ["Site 1", "Site 2", "Site 3", "Site 4", "Site 5"]
X_TICKS = ["2018-07", "2018-10", "2019-01", "2019-04", "2019-07", "2019-10", "2020-01", "2020-04"]
LEGEND_LABELS = ["Sentinel-1 retrieval", "Model estimate"]

RAIN_BLUE = "#4A7BCB"
MARK_BLUE = "#4C8ACB"
MARK_RED = "#F06262"
AXIS_GREY = "#8C8C8C"
TEXT_GREY = "#3F3F3F"
FONT = "Lato"
PLOT_W = 370


def ymd(s):
    y, m = s.split("-")[:2]
    return alt.DateTime(year=int(y), month=int(m), date=1)


X_SCALE = alt.Scale(domain=[alt.DateTime(year=2018, month=7, date=1),
                            alt.DateTime(year=2020, month=6, date=30)])
X_AXIS = alt.Axis(values=[ymd(t) for t in X_TICKS], format="%Y-%m", title=None, grid=False,
                  labelFontSize=7, labelPadding=2, tickSize=3, labelFlush=False)


def xenc():
    return alt.X("date:T", scale=X_SCALE, axis=X_AXIS)


def footer_layers():
    """Separator rule under the last panel and the key below it (runs off the page)."""
    one = pd.DataFrame({"k": [0]})
    rule = alt.Chart(one).mark_rule(color="#262626", strokeWidth=2).encode(
        x=alt.value(-33.5), x2=alt.value(412.5), y=alt.value(146.5)
    )
    circ = alt.Chart(one).mark_point(
        shape="circle", filled=False, color=MARK_RED, size=40, strokeWidth=1.2, opacity=1
    ).encode(x=alt.value(107), y=alt.value(162))
    tri = alt.Chart(one).mark_point(
        shape="triangle-up", filled=True, color=MARK_BLUE, size=40, opacity=1
    ).encode(x=alt.value(257.5), y=alt.value(162))
    lab1 = alt.Chart(pd.DataFrame({"t": [LEGEND_LABELS[0]]})).mark_text(
        font=FONT, fontSize=11, color="#333333", align="left", baseline="alphabetic"
    ).encode(x=alt.value(122), y=alt.value(166), text="t:N")
    lab2 = alt.Chart(pd.DataFrame({"t": [LEGEND_LABELS[1]]})).mark_text(
        font=FONT, fontSize=11, color="#333333", align="left", baseline="alphabetic"
    ).encode(x=alt.value(275), y=alt.value(166), text="t:N")
    return [rule, circ, tri, lab1, lab2]


def panel(name, soil_parts, circles, triangles, rain, sm_max, sm_ticks, rain_max, rain_ticks,
          height, footer=False):
    soil = pd.concat(
        [pd.DataFrame(p, columns=["date", "sm"]).assign(seg=i) for i, p in enumerate(soil_parts)]
    )
    circ = pd.DataFrame(circles, columns=["date", "sm"])
    tri = pd.DataFrame(triangles, columns=["date", "sm"])
    rn = pd.DataFrame(rain, columns=["date", "mm"])

    sm_scale = alt.Scale(domain=[0, sm_max], nice=False)

    rain_layer = alt.Chart(rn).mark_rule(color=RAIN_BLUE, strokeWidth=1).encode(
        x=xenc(),
        y=alt.Y("mm:Q", scale=alt.Scale(domain=[0, rain_max], reverse=True, nice=False),
                axis=alt.Axis(orient="right", title="Precipitation [mm]", values=rain_ticks,
                              format="d", grid=False, tickSize=3, labelPadding=2,
                              labelFontSize=8, titleFontSize=10.5, titlePadding=7)),
        y2=alt.datum(0),
    )
    line_layer = alt.Chart(soil).mark_line(color="black", strokeWidth=1.5).encode(
        x=xenc(),
        y=alt.Y("sm:Q", scale=sm_scale,
                axis=alt.Axis(orient="left", title="Soil Moisture [m³/m³]", values=sm_ticks,
                              format=".1~f", grid=False, tickSize=3, labelPadding=2,
                              labelFontSize=8, titleFontSize=10.5, titlePadding=5)),
        detail="seg:N",
    )
    circ_layer = alt.Chart(circ).mark_point(
        shape="circle", filled=False, color=MARK_RED, size=26, strokeWidth=1, opacity=1
    ).encode(x=xenc(), y=alt.Y("sm:Q", scale=sm_scale, axis=None))
    tri_layer = alt.Chart(tri).mark_point(
        shape="triangle-up", filled=True, color=MARK_BLUE, size=20, opacity=1
    ).encode(x=xenc(), y=alt.Y("sm:Q", scale=sm_scale, axis=None))
    # panel heading, centred above the plot area
    head_layer = alt.Chart(pd.DataFrame({"t": [name]})).mark_text(
        font=FONT, fontSize=16, fontWeight="bold", color="#111111", align="center",
        baseline="alphabetic",
    ).encode(x=alt.value(PLOT_W / 2 + 2.5), y=alt.value(-9), text="t:N")

    layers = [rain_layer, line_layer, tri_layer, circ_layer, head_layer]
    if footer:
        layers += footer_layers()
    return alt.layer(*layers).resolve_scale(y="independent").properties(
        width=PLOT_W, height=height,
    )


SM_06 = [0, 0.2, 0.4, 0.6]
RAIN_300 = [0, 100, 200, 300]

chart = alt.vconcat(
    panel(SITES[0], [S1_SOIL_A, S1_SOIL_B], S1_CIRCLES, S1_TRIANGLES, S1_RAIN,
          0.3, [0, 0.1, 0.2, 0.3], 80, [0, 20, 40, 60, 80], 112),
    panel(SITES[1], [S2_SOIL], S2_CIRCLES, S2_TRIANGLES, S2_RAIN, 0.6, SM_06, 300, RAIN_300, 113),
    panel(SITES[2], [S3_SOIL], S3_CIRCLES, S3_TRIANGLES, S3_RAIN, 0.6, SM_06, 300, RAIN_300, 113),
    panel(SITES[3], [S4_SOIL], S4_CIRCLES, S4_TRIANGLES, S4_RAIN, 0.6, SM_06, 300, RAIN_300, 110),
    panel(SITES[4], [S5_SOIL], S5_CIRCLES, S5_TRIANGLES, S5_RAIN, 0.6, SM_06, 300, RAIN_300, 110,
          footer=True),
    spacing=48,
    bounds="flush",
).properties(
    padding={"left": 0, "top": 1, "right": 0, "bottom": 0},
    background="white",
).configure_view(
    stroke=AXIS_GREY, strokeWidth=1,
).configure_axis(
    domainColor=AXIS_GREY, tickColor=AXIS_GREY, labelColor=TEXT_GREY, titleColor=TEXT_GREY,
    labelFont=FONT, titleFont=FONT, labelFontWeight="bold", titleFontWeight="bold",
)

chart.save("out.html", embed_options={"renderer": "svg", "actions": False})
